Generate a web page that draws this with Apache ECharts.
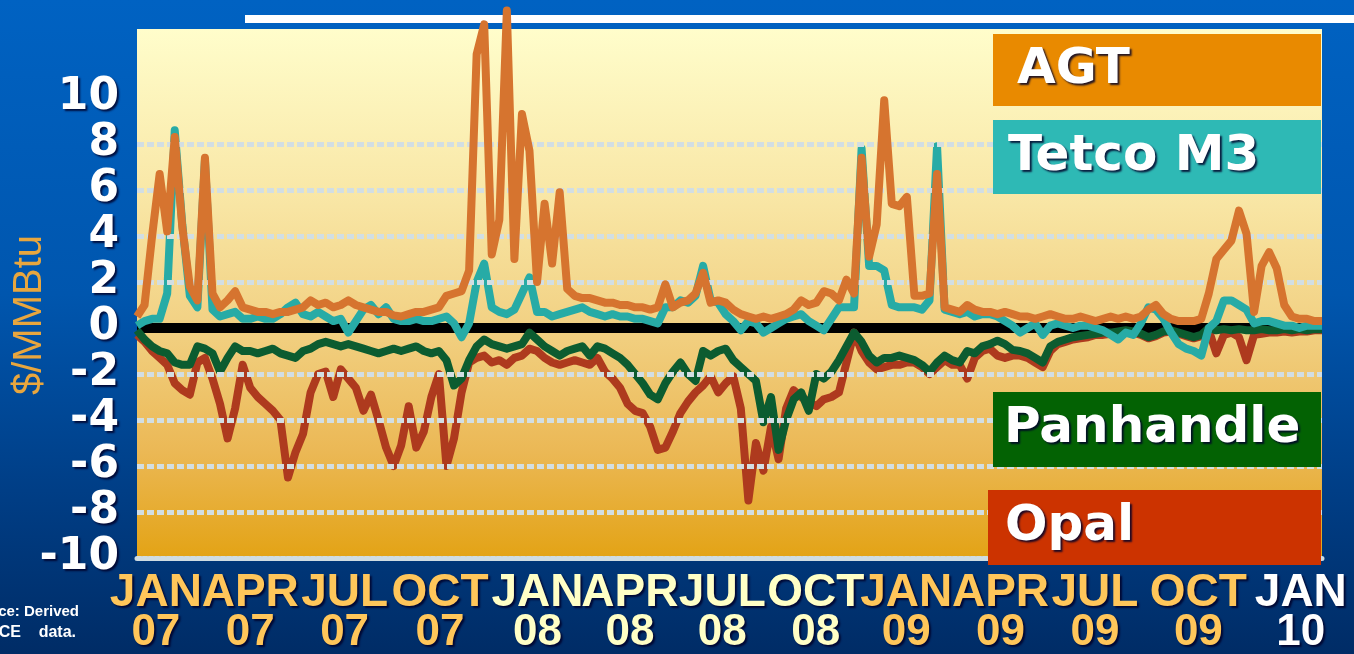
<!DOCTYPE html>
<html><head><meta charset="utf-8">
<script src="https://cdn.jsdelivr.net/npm/echarts@6/dist/echarts.min.js"></script>
<style>
html,body{margin:0;padding:0;width:1354px;height:654px;overflow:hidden;
background:linear-gradient(180deg,#0062C2 0%,#0056AE 45%,#003E86 75%,#002C66 100%);}
#c{width:1354px;height:654px;}
</style>
</head><body><div id="c"></div>
<script>
// values at evenly spaced points (about every 7.2 days) starting mid-Dec 2006, $/MMBtu basis
const startDate = '2006-12-14';
const stepDays = 7.2;
const agt = [
 0.5,1.0,4.0,6.7,4.2,8.3,4.4,1.8,1.2,7.4,
 1.5,0.9,1.2,1.6,0.9,0.8,0.7,0.7,0.6,0.7,
 0.7,0.8,0.9,1.2,1.0,1.1,0.9,1.0,1.2,1.0,
 0.9,0.8,0.7,0.7,0.55,0.5,0.6,0.7,0.7,0.8,
 0.9,1.4,1.5,1.6,2.5,11.9,13.2,3.2,4.7,13.8,
 3.0,9.3,7.7,2.0,5.4,2.8,5.9,1.7,1.4,1.3,
 1.3,1.2,1.1,1.1,1.0,1.0,0.9,0.9,0.8,0.9,
 1.9,0.9,1.1,1.2,1.5,2.4,1.1,1.2,1.1,0.8,
 0.6,0.5,0.4,0.5,0.4,0.5,0.6,0.8,1.2,1.0,
 1.1,1.6,1.5,1.2,2.1,1.5,7.4,3.1,4.5,9.9,
 5.4,5.3,5.7,1.4,1.4,1.5,6.7,0.9,0.8,0.7,
 1.0,0.8,0.7,0.7,0.6,0.7,0.6,0.5,0.5,0.4,
 0.5,0.6,0.5,0.4,0.4,0.5,0.4,0.3,0.4,0.5,
 0.4,0.5,0.4,0.5,0.8,1.0,0.6,0.4,0.3,0.3,
 0.3,0.4,1.5,3.0,3.4,3.8,5.1,4.1,0.7,2.7,
 3.3,2.6,1.0,0.5,0.4,0.4,0.3,0.3
];
const tetco = [
 0.1,0.3,0.4,0.4,1.5,8.6,4.5,1.4,0.9,7.3,
 0.8,0.5,0.6,0.7,0.4,0.4,0.5,0.4,0.4,0.6,
 0.9,1.1,0.6,0.5,0.7,0.5,0.3,0.4,-0.2,0.3,
 0.8,1.0,0.6,0.9,0.4,0.3,0.3,0.4,0.3,0.3,
 0.4,0.5,0.2,-0.4,0.2,2.0,2.8,0.9,0.7,0.6,
 0.8,1.5,2.2,0.7,0.7,0.5,0.6,0.7,0.8,0.9,
 0.7,0.6,0.5,0.6,0.5,0.5,0.4,0.4,0.3,0.2,
 0.9,0.9,1.2,1.1,1.4,2.7,1.2,1.1,0.6,0.3,
 -0.1,0.3,0.2,-0.2,0.0,0.2,0.4,0.5,0.6,0.3,
 0.1,-0.1,0.4,0.9,0.9,0.9,7.8,2.7,2.7,2.5,
 1.0,0.9,0.9,0.9,0.8,1.2,7.9,0.8,0.7,0.6,
 0.7,0.5,0.6,0.6,0.5,0.3,0.1,-0.2,0.0,0.2,
 -0.3,0.1,0.2,0.1,0.0,0.1,0.1,0.0,-0.1,-0.3,
 -0.5,-0.2,-0.3,0.2,0.9,0.8,0.4,-0.2,-0.7,-0.9,
 -1.0,-1.2,0.0,0.3,1.2,1.2,1.0,0.8,0.2,0.3,
 0.3,0.2,0.1,0.1,0.0,0.1,0.1,0.1
];
const panhandle = [
 -0.1,-0.5,-0.8,-1.0,-1.1,-1.5,-1.6,-1.6,-0.8,-0.9,
 -1.1,-1.9,-1.3,-0.8,-1.0,-1.0,-1.1,-1.0,-0.9,-1.1,
 -1.2,-1.3,-1.0,-0.9,-0.7,-0.6,-0.7,-0.8,-0.7,-0.8,
 -0.9,-1.0,-1.1,-1.0,-0.9,-1.0,-0.9,-0.8,-1.0,-1.1,
 -1.0,-1.4,-2.5,-2.2,-1.4,-0.8,-0.5,-0.7,-0.8,-0.9,
 -0.8,-0.7,-0.2,-0.5,-0.8,-1.0,-1.2,-1.0,-0.9,-0.8,
 -1.2,-0.8,-0.9,-1.1,-1.3,-1.6,-2.0,-2.4,-2.9,-3.1,
 -2.4,-1.9,-1.5,-2.0,-2.3,-1.0,-1.2,-1.0,-0.9,-1.4,
 -1.7,-2.0,-2.3,-4.1,-3.0,-5.3,-4.0,-3.1,-2.8,-3.6,
 -2.0,-2.2,-1.9,-1.4,-0.8,-0.2,-0.6,-1.2,-1.5,-1.3,
 -1.3,-1.2,-1.3,-1.4,-1.6,-1.9,-1.5,-1.2,-1.4,-1.5,
 -1.0,-1.1,-0.8,-0.7,-0.55,-0.7,-0.95,-1.0,-1.1,-1.3,
 -1.5,-0.8,-0.6,-0.5,-0.4,-0.35,-0.3,-0.25,-0.2,-0.2,
 -0.15,-0.1,-0.15,-0.25,-0.4,-0.3,-0.15,-0.1,-0.2,-0.3,
 -0.4,-0.3,0.0,-0.1,-0.05,-0.1,-0.05,-0.1,-0.1,-0.05,
 -0.1,-0.1,-0.05,-0.1,-0.05,-0.1,-0.05,-0.05
];
const opal = [
 -0.3,-0.6,-1.0,-1.3,-1.6,-2.4,-2.7,-2.9,-1.5,-1.3,
 -2.2,-3.3,-4.8,-3.5,-1.6,-2.6,-3.0,-3.3,-3.6,-4.0,
 -6.5,-5.4,-4.6,-2.8,-2.0,-1.9,-3.0,-1.8,-2.2,-2.6,
 -3.6,-2.9,-4.0,-5.2,-6.0,-5.1,-3.4,-5.2,-4.5,-3.0,
 -2.0,-6.0,-4.8,-2.8,-1.5,-1.3,-1.2,-1.5,-1.4,-1.6,
 -1.3,-1.2,-0.9,-1.0,-1.3,-1.5,-1.6,-1.5,-1.4,-1.5,
 -1.6,-1.3,-1.9,-2.2,-2.6,-3.3,-3.6,-3.7,-4.3,-5.3,
 -5.2,-4.5,-3.7,-3.2,-2.8,-2.5,-2.1,-2.8,-2.4,-2.1,
 -3.5,-7.5,-5.0,-6.2,-4.3,-5.7,-3.5,-2.7,-3.0,-3.2,
 -3.4,-3.1,-3.0,-2.8,-1.5,-0.2,-1.0,-1.5,-1.8,-1.7,
 -1.6,-1.6,-1.5,-1.5,-1.7,-2.0,-1.7,-1.4,-1.6,-1.6,
 -2.2,-1.3,-1.0,-0.9,-1.2,-1.3,-1.2,-1.2,-1.3,-1.5,
 -1.7,-1.0,-0.7,-0.6,-0.5,-0.45,-0.4,-0.3,-0.3,-0.25,
 -0.2,-0.2,-0.2,-0.3,-0.45,-0.35,-0.2,-0.15,-0.25,-0.35,
 -0.45,-0.35,-0.1,-1.1,-0.3,-0.2,-0.4,-1.4,-0.3,-0.25,
 -0.2,-0.2,-0.15,-0.2,-0.15,-0.15,-0.1,-0.1
];
const zeroLine = [0, 0];
const gridValues = [8, 6, 4, 2, -2, -4, -6, -8];
const yTicks = [-10, -8, -6, -4, -2, 0, 2, 4, 6, 8, 10];
const quarterDates = ['2007-01-01','2007-04-01','2007-07-01','2007-10-01','2008-01-01','2008-04-01','2008-07-01','2008-10-01','2009-01-01','2009-04-01','2009-07-01','2009-10-01','2010-01-01'];
const quarterMonths = ['JAN','APR','JUL','OCT','JAN','APR','JUL','OCT','JAN','APR','JUL','OCT','JAN'];
const quarterYears = ['07','07','07','07','08','08','08','08','09','09','09','09','10'];
const seriesNames = ['AGT','Tetco M3','Panhandle','Opal'];

// layout-only: small horizontal nudge (px) of each quarter label, as hand-placed on the original slide
const labelNudge = [0,0,-1,-2,-1,-4,-7,-10,-16,-16,-17,-10,-4];
const yearColors = {'07':'#FFC65A','08':'#FFFFC6','09':'#FFC65A','10':'#FFFFFF'};

const dayOf = s => (Date.parse(s + 'T00:00:00Z') - Date.parse(startDate + 'T00:00:00Z')) / 86400000;
const quarterDays = quarterDates.map(dayOf);
const lastDay = (agt.length - 1) * stepDays;
const toPairs = arr => arr.map((v, i) => [i * stepDays, v]);
// empty sentinel labels at both ends of the axis so that no real label is dropped by min/max overlap handling
const labelValues = [0].concat(quarterDays, [lastDay]);

const labFont = "'Liberation Sans',Arial,sans-serif";
const shadow = {textShadowColor:'rgba(0,0,40,0.85)', textShadowBlur:2, textShadowOffsetX:2, textShadowOffsetY:2};
const rich = {};
quarterYears.forEach((yr, k) => {
  const n = labelNudge[k];
  const pad = n >= 0 ? [0,0,0,2*n] : [0,-2*n,0,0];
  rich['m' + k] = Object.assign({color:yearColors[yr], fontSize:46, fontWeight:'bold', fontFamily:labFont, lineHeight:42, padding:pad}, shadow);
  rich['y' + k] = Object.assign({color:yearColors[yr], fontSize:44, fontWeight:'bold', fontFamily:labFont, lineHeight:38, padding:pad}, shadow);
});

const chart = echarts.init(document.getElementById('c'), null, {renderer:'canvas'});
const legendBoxes = [
  {name:seriesNames[0], fill:'#E98A00', x:993, y:34, w:328, h:72, tx:1017},
  {name:seriesNames[1], fill:'#2EB9B5', x:993, y:120, w:328, h:74, tx:1008},
  {name:seriesNames[2], fill:'#036203', x:993, y:392, w:328, h:75, tx:1004},
  {name:seriesNames[3], fill:'#CC3300', x:988, y:490, w:333, h:75, tx:1005}
];
const graphics = [
  {type:'rect', shape:{x:245, y:15, width:1109, height:8}, style:{fill:'#ffffff'}, z:1, silent:true},
  {type:'text', x:30, y:315, rotation:Math.PI/2, z:5,
    style:{text:'$/MMBtu', fill:'#E8A63E', font:'40px "Liberation Sans"', align:'center', verticalAlign:'middle', textAlign:'center', textVerticalAlign:'middle'}},
  {type:'text', x:79, y:612, z:5,
    style:{text:'Source: Derived', fill:'#ffffff', font:'bold 15px "Liberation Sans"', align:'right', verticalAlign:'middle', textAlign:'right', textVerticalAlign:'middle'}},
  {type:'text', x:76, y:633, z:5,
    style:{text:'from ICE    data.', fill:'#ffffff', font:'bold 16px "Liberation Sans"', align:'right', verticalAlign:'middle', textAlign:'right', textVerticalAlign:'middle'}}
];
legendBoxes.forEach(b => {
  graphics.push({type:'rect', shape:{x:b.x, y:b.y, width:b.w, height:b.h}, style:{fill:b.fill}, z:20, silent:true});
  graphics.push({type:'text', x:b.tx, y:b.y + b.h/2, z:21,
    style:Object.assign({text:b.name, fill:'#ffffff', font:'bold 50px "DejaVu Sans"', align:'left', verticalAlign:'middle', textAlign:'left', textVerticalAlign:'middle'}, shadow)});
});

const option = {
  animation:false,
  backgroundColor:'transparent',
  grid:{left:137, right:32, top:29, bottom:96, show:true, borderWidth:0, containLabel:false, outerBoundsMode:'none',
    backgroundColor:new echarts.graphic.LinearGradient(0,0,0,1,[
      {offset:0, color:'#FFFDCB'},{offset:0.3, color:'#F9E8A8'},{offset:0.55, color:'#F2D285'},
      {offset:0.8, color:'#EBB855'},{offset:1, color:'#E3A315'}])},
  xAxis:{type:'value', min:0, max:lastDay,
    axisLine:{show:true, onZero:false, lineStyle:{color:'#CFDCE2', width:5, type:[4,2]}},
    axisTick:{show:false}, splitLine:{show:false},
    axisLabel:{customValues:labelValues, margin:14, hideOverlap:false, showMinLabel:false, showMaxLabel:false,
      formatter:function(v){
        const k = quarterDays.indexOf(v);
        if (k < 0) return '';
        return '{m' + k + '|' + quarterMonths[k] + '}\n{y' + k + '|' + quarterYears[k] + '}';
      },
      rich:rich}},
  yAxis:{type:'value', min:-10, max:13,
    axisLine:{show:false}, axisTick:{show:false}, splitLine:{show:false},
    axisLabel:Object.assign({customValues:yTicks, color:'#ffffff', fontSize:44, fontWeight:'bold', fontFamily:'"DejaVu Sans"', margin:18}, shadow)},
  series:[
    {type:'line', name:'zero', data:[[0, zeroLine[0]],[lastDay, zeroLine[1]]], symbol:'none', z:1, silent:true,
      lineStyle:{color:'#000000', width:10},
      markLine:{silent:true, symbol:'none', label:{show:false},
        lineStyle:{color:'#D2DEE3', width:5, type:[7,3]},
        data:gridValues.map(v => ({yAxis:v}))}},
    {type:'line', name:seriesNames[3], data:toPairs(opal), symbol:'none', z:2, clip:false,
      lineStyle:{color:'#AE3A1E', width:8, join:'round'}},
    {type:'line', name:seriesNames[2], data:toPairs(panhandle), symbol:'none', z:3, clip:false,
      lineStyle:{color:'#0C5C30', width:8, join:'round'}},
    {type:'line', name:seriesNames[1], data:toPairs(tetco), symbol:'none', z:4, clip:false,
      lineStyle:{color:'#27ABA6', width:8, join:'round'}},
    {type:'line', name:seriesNames[0], data:toPairs(agt), symbol:'none', z:5, clip:false,
      lineStyle:{color:'#D6742F', width:8, join:'round'}}
  ],
  graphic:graphics
};
chart.setOption(option);
</script>
</body></html>
